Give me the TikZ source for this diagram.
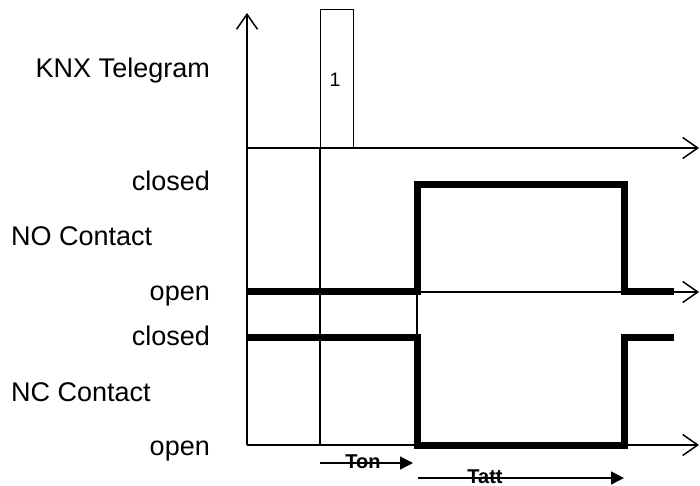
\documentclass[tikz,border=0pt]{standalone}
\usepackage{fontspec}
\setmainfont{Liberation Sans}
\usetikzlibrary{arrows.meta}
\begin{document}
\begin{tikzpicture}[x=1pt,y=-1pt,
  axis/.style={line width=1.5pt, -{Straight Barb[length=15pt,width=21pt]}},
  thinline/.style={line width=1.3pt},
  signal/.style={line width=7pt, line join=miter},
  lbl/.style={inner sep=0pt, font=\fontsize{27}{32}\selectfont},
  tarrow/.style={line width=1.5pt,-{Triangle[length=13pt,width=13pt]}},
  tlbl/.style={inner sep=0pt, font=\fontsize{20}{24}\selectfont\bfseries}]
\useasboundingbox (0,0) rectangle (700,486);
% coordinates
\coordinate (vb) at (247,445);
\coordinate (vt) at (247,13);
\coordinate (a1s) at (247,148);
\coordinate (a1e) at (699,148);
\coordinate (a2s) at (247,292);
\coordinate (a2e) at (699,292);
\coordinate (a3s) at (247,445);
\coordinate (a3e) at (699,445);
% axes
\draw[axis] (vb) -- (vt);
\draw[axis] (a1s) -- (a1e);
\draw[axis] (a2s) -- (a2e);
\draw[axis] (a3s) -- (a3e);
% telegram
\node[draw, thinline, minimum width=33pt, minimum height=138pt, inner sep=0pt, anchor=south west] (tel) at (320,148) {};
\node[inner sep=0pt, anchor=base, font=\fontsize{19.5}{23}\selectfont] (one) at (335,87) {1};
\coordinate (tb) at (320,445);
\draw[thinline] (tel.south west) -- (tb);
% thin marker
\coordinate (m1) at (417,292);
\coordinate (m2) at (417,337);
\draw[thinline] (m1) -- (m2);
% signals
\draw[signal] (247,291.5) -- (417,291.5) -- (417,184.5) -- (624.5,184.5) -- (624.5,291.5) -- (674,291.5);
\draw[signal] (247,337) -- (417,337) -- (417,445) -- (624.5,445) -- (624.5,337) -- (674,337);
% labels
\node[lbl, anchor=base east] (knx) at (210,78) {KNX Telegram};
\node[lbl, anchor=base east] (noc) at (210,191) {closed};
\node[lbl, anchor=base west] (no) at (11,245) {NO Contact};
\node[lbl, anchor=base east] (noo) at (210,300.7) {open};
\node[lbl, anchor=base east] (ncc) at (210,345) {closed};
\node[lbl, anchor=base west] (nc) at (11,401) {NC Contact};
\node[lbl, anchor=base east] (nco) at (210,455) {open};
% timing arrows
\node[tlbl, anchor=base] (ton) at (363,468) {Ton};
\node[tlbl, anchor=base] (tatt) at (485,483) {Tatt};
\coordinate (t1s) at (320,463);
\coordinate (t1e) at (413,463);
\coordinate (t2s) at (418,478);
\coordinate (t2e) at (624,478);
\draw[tarrow] (t1s) -- (t1e);
\draw[tarrow] (t2s) -- (t2e);
\end{tikzpicture}
\end{document}
